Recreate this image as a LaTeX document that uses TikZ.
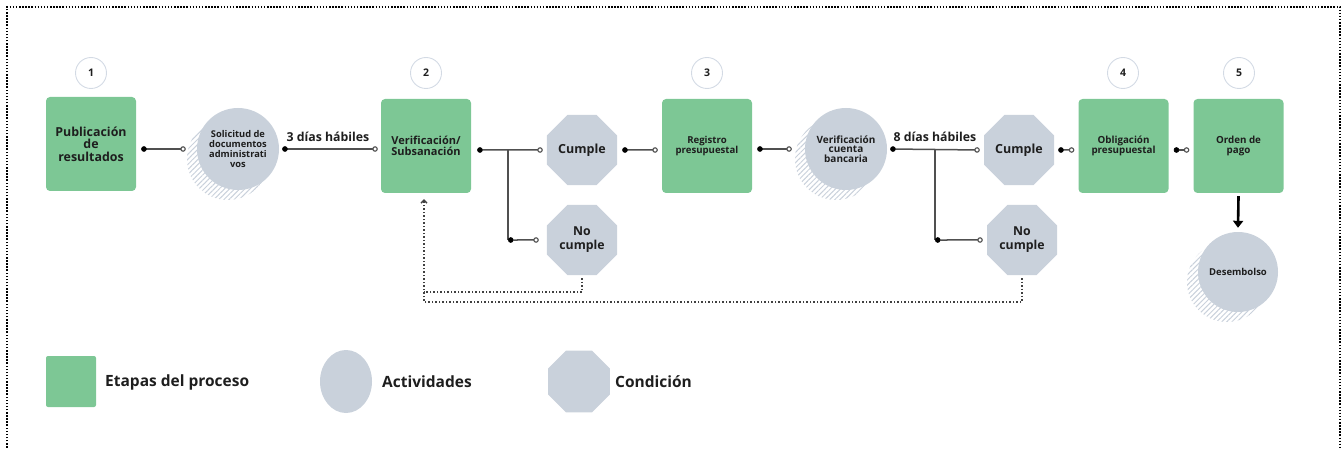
\documentclass[tikz,border=0pt]{standalone}
\usepackage{fontspec}
\setmainfont{Open Sans}
\usetikzlibrary{shapes.geometric,arrows.meta,patterns.meta,calc}
\definecolor{stepgreen}{HTML}{7DC795}
\definecolor{actgrey}{HTML}{C9D1DB}
\definecolor{ringcol}{HTML}{D3DAE4}
\definecolor{txt}{HTML}{1E1E1E}
\definecolor{conncol}{HTML}{505050}
\newcommand\fsz[2]{\fontsize{#1}{#2}\selectfont\bfseries}
\begin{document}
\begin{tikzpicture}[x=1pt,y=-1pt,
 stage/.style={fill=stepgreen, rounded corners=4pt, minimum width=90pt, minimum height=94pt, inner sep=0pt, align=center, text=txt},
 activity/.style={circle, fill=actgrey, minimum size=82pt, inner sep=0pt, align=center, text=txt},
 shadowfill/.style={pattern={Lines[angle=45,distance=3.6pt,line width=1pt]}, pattern color=actgrey},
 cond/.style={regular polygon, regular polygon sides=8, fill=actgrey, minimum size=75.8pt, inner sep=0pt, align=center, text=txt},
 numring/.style={circle, draw=ringcol, line width=0.9pt, minimum size=31pt, inner sep=0pt, text=txt, font=\fsz{10.5}{12}},
 conn/.style={draw=conncol, line width=1.5pt, {Circle[length=5.5pt,width=5.5pt,color=black,line width=0.5pt]}-{Circle[open,length=5.5pt,width=5.5pt,fill=white,line width=1.1pt]}},
 plainline/.style={draw=conncol, line width=1.5pt},
 ret/.style={draw=black!75, line width=1.6pt, dash pattern=on 1.6pt off 1.9pt},
 border/.style={draw=black, line width=1.5pt, dash pattern=on 1.5pt off 1.6pt},
 lbl/.style={inner sep=0pt, text=txt, font=\fsz{12.3}{14}},
 legtxt/.style={inner sep=0pt, text=txt, font=\fsz{15.5}{18}, anchor=west}
]
\useasboundingbox (0,0) rectangle (1343,449);
\draw[border] (7,460) -- (7,7) -- (1340,7) -- (1340,460);

% step numbers
\node[numring] (n1) at (91,73) {1};
\node[numring] (n2) at (426,73) {2};
\node[numring] (n3) at (707,73) {3};
\node[numring] (n4) at (1123,73) {4};
\node[numring] (n5) at (1239,73) {5};

% stages
\node[stage, font=\fsz{12.4}{12.6}] (b1) at (91,144) {Publicación\\de\\resultados};
\node[stage, font=\fsz{11}{11.2}] (b2) at (426,146) {Verificación/\\Subsanación};
\node[stage, font=\fsz{9.6}{10}] (b3) at (707,146) {Registro\\presupuestal};
\node[stage, font=\fsz{9.8}{10}] (b4) at (1123.5,146) {Obligación\\presupuestal};
\node[stage, font=\fsz{9.8}{10}] (b5) at (1238.5,146) {Orden de\\pago};

% activities with hatched shadows
\fill[shadowfill] (228,159) circle[radius=41pt];
\node[activity, font=\fsz{9.3}{9.7}] (a1) at (238,149) {Solicitud de\\documentos\\administrati\\vos};
\fill[shadowfill] (836,159) circle[radius=41pt];
\node[activity, font=\fsz{10}{9.6}] (a2) at (846,149) {Verificación\\cuenta\\bancaria};
\fill[shadowfill] (1227,282) circle[radius=40pt];
\node[activity, minimum size=80pt, font=\fsz{9.5}{10}] (a3) at (1238,272) {Desembolso};

% conditions
\node[cond, font=\fsz{12.5}{14}] (c1) at (582,150) {Cumple};
\node[cond, font=\fsz{12.3}{14}] (nc1) at (582,240) {No\\cumple};
\node[cond, font=\fsz{12.5}{14}] (c2) at (1019,150) {Cumple};
\node[cond, font=\fsz{12.3}{14}] (nc2) at (1022,240) {No\\cumple};

% connectors
\draw[conn] ($(b1.east |- a1)+(5,0)$) -- ($(a1.west)+(-11,0)$);
\draw[conn] ($(a1.east)+(3,0)$) -- ($(b2.west |- a1)+(-3,0)$);
\node[lbl, anchor=base] (l1) at (328,141.5) {3 días hábiles};
\draw[conn] ($(b2.east |- c1)+(6,0)$) -- ($(c1.west)+(-4,0)$);
\coordinate (j1) at (508,150);
\draw[plainline] (j1) -- (j1 |- nc1);
\draw[conn] (j1 |- nc1) -- ($(nc1.west)+(-8,0)$);
\draw[conn] ($(c1.east)+(5,0)$) -- ($(b3.west |- c1)+(-4,0)$);
\draw[conn] ($(b3.east |- a2)+(5,0)$) -- ($(a2.west)+(-13,0)$);
\draw[conn] ($(a2.east)+(3,0)$) -- ($(c2.west)+(-4,0)$);
\node[lbl, anchor=base] (l2) at (935,141.5) {8 días hábiles};
\coordinate (j2) at (935,150);
\draw[plainline] (j2) -- (j2 |- nc2);
\draw[conn] (j2 |- nc2) -- ($(nc2.west)+(-4,0)$);
\draw[conn] ($(c2.east)+(4,0)$) -- ($(b4.west |- c2)+(-4,0)$);
\draw[conn] ($(b4.east |- c2)+(5,0)$) -- ($(b5.west |- c2)+(-4,0)$);
\draw[line width=2.6pt, -{Triangle[length=7pt,width=10pt]}] ($(b5.south)+(0,3)$) -- ($(a3.north)+(0,-4)$);

% return (dotted) paths
\coordinate (r1) at (424,292);
\coordinate (r2) at (424,302);
\draw[ret] ($(nc1.south)+(0,3)$) |- (r1);
\draw[ret, -{Straight Barb[length=3pt,width=6pt,line width=1.3pt]}] ($(nc2.south)+(0,3)$) |- (r2) -- ($(b2.south)+(-2,6)$);

% legend
\node[stage, minimum width=50pt, minimum height=51pt, rounded corners=2pt] (lg1) at (71,381.5) {};
\node[legtxt] (lt1) at (105,382) {Etapas del proceso};
\node[ellipse, fill=actgrey, minimum width=52pt, minimum height=63pt, inner sep=0pt] (lg2) at (346,381.5) {};
\node[legtxt] (lt2) at (382,382) {Actividades};
\node[regular polygon, regular polygon sides=8, fill=actgrey, minimum size=67pt, inner sep=0pt] (lg3) at (579,381.5) {};
\node[legtxt] (lt3) at (615,382) {Condición};
\end{tikzpicture}
\end{document}
